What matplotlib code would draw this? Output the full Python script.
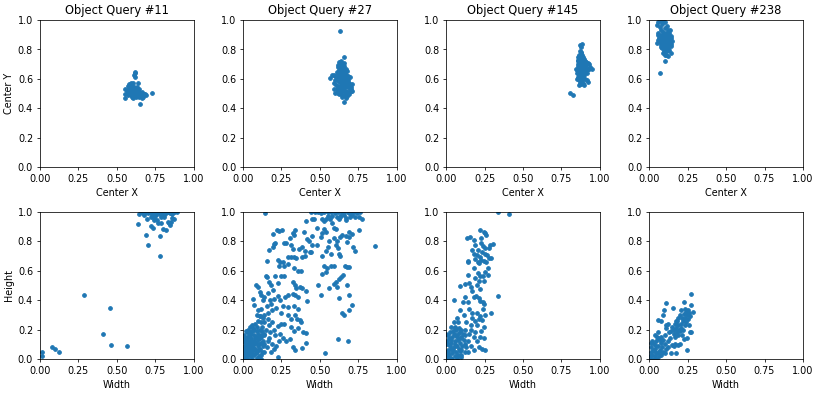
import matplotlib
matplotlib.use("Agg")
from matplotlib import pyplot as plt

queries = [11, 27, 145, 238]

# center (x, y) samples per query
q11_center = [(0.62,0.65),(0.62,0.64),(0.615,0.625),(0.62,0.61),(0.605,0.575),(0.59,0.575),(0.58,0.565),(0.635,0.57),
    (0.555,0.53),(0.555,0.50),(0.555,0.468),(0.575,0.52),(0.595,0.515),(0.615,0.53),(0.63,0.51),(0.64,0.50),(0.65,0.49),
    (0.66,0.495),(0.67,0.48),(0.685,0.50),(0.728,0.502),(0.652,0.428),(0.57,0.505),(0.59,0.49),(0.60,0.48),(0.61,0.50),
    (0.62,0.49),(0.63,0.485),(0.645,0.53),(0.665,0.51),(0.58,0.54),(0.61,0.545),(0.60,0.555),(0.625,0.52),(0.632,0.548),
    (0.665,0.47),(0.69,0.49),(0.57,0.49),(0.585,0.505),(0.60,0.505),(0.615,0.515),(0.64,0.515),(0.655,0.505),(0.675,0.495),
    (0.595,0.535),(0.575,0.555),(0.565,0.515),(0.605,0.47),(0.645,0.475),(0.625,0.475)]

q27_center = [(0.634,0.925),(0.656,0.747),(0.563,0.609),(0.66,0.446),(0.71,0.566),(0.624,0.717),(0.58,0.63),(0.59,0.625),
    (0.63,0.70),(0.64,0.69),(0.65,0.68),(0.66,0.69),(0.67,0.67),(0.62,0.68),(0.625,0.66),(0.635,0.665),(0.645,0.655),
    (0.655,0.665),(0.665,0.65),(0.675,0.655),(0.61,0.645),(0.62,0.64),(0.63,0.635),(0.64,0.63),(0.65,0.64),(0.66,0.635),
    (0.67,0.63),(0.68,0.62),(0.60,0.62),(0.61,0.615),(0.625,0.61),(0.635,0.605),(0.645,0.61),(0.655,0.60),(0.665,0.61),
    (0.675,0.60),(0.685,0.595),(0.60,0.59),(0.615,0.585),(0.63,0.58),(0.64,0.585),(0.65,0.575),(0.66,0.58),(0.67,0.575),
    (0.68,0.57),(0.695,0.565),(0.605,0.56),(0.62,0.555),(0.635,0.56),(0.645,0.55),(0.655,0.555),(0.665,0.545),(0.675,0.55),
    (0.69,0.54),(0.70,0.53),(0.61,0.535),(0.62,0.52),(0.63,0.53),(0.64,0.52),(0.65,0.525),(0.66,0.515),(0.67,0.52),
    (0.68,0.51),(0.70,0.515),(0.615,0.505),(0.625,0.495),(0.64,0.50),(0.655,0.49),(0.665,0.50),(0.675,0.485),(0.685,0.495),
    (0.645,0.475),(0.67,0.47),(0.69,0.50),(0.60,0.505),(0.59,0.57),(0.595,0.535),(0.705,0.545),(0.71,0.52),(0.685,0.58),
    (0.695,0.61),(0.615,0.695),(0.65,0.70),(0.66,0.71),(0.64,0.72),(0.635,0.545),(0.655,0.62),(0.645,0.595)]

q145_center = [(0.881,0.835),(0.87,0.83),(0.875,0.815),(0.806,0.507),(0.827,0.491),(0.946,0.667),(0.924,0.581),(0.915,0.59),
    (0.849,0.638),(0.87,0.79),(0.875,0.78),(0.88,0.775),(0.865,0.765),(0.885,0.76),(0.86,0.75),(0.87,0.745),(0.88,0.74),
    (0.89,0.75),(0.895,0.735),(0.855,0.73),(0.865,0.725),(0.875,0.72),(0.885,0.715),(0.90,0.72),(0.91,0.715),(0.92,0.71),
    (0.86,0.70),(0.87,0.705),(0.88,0.695),(0.89,0.70),(0.90,0.69),(0.91,0.695),(0.855,0.685),(0.865,0.68),(0.875,0.675),
    (0.885,0.68),(0.895,0.67),(0.905,0.675),(0.92,0.67),(0.93,0.665),(0.85,0.66),(0.86,0.655),(0.87,0.65),(0.88,0.655),
    (0.89,0.645),(0.90,0.65),(0.91,0.66),(0.855,0.64),(0.865,0.63),(0.875,0.625),(0.885,0.635),(0.895,0.625),(0.86,0.615),
    (0.87,0.61),(0.88,0.60),(0.89,0.61),(0.90,0.60),(0.865,0.595),(0.875,0.585),(0.885,0.59),(0.87,0.57),(0.88,0.565),
    (0.89,0.575),(0.865,0.56),(0.895,0.56),(0.85,0.60),(0.845,0.67),(0.935,0.68),(0.915,0.64),(0.86,0.72),(0.89,0.69),
    (0.875,0.645),(0.88,0.71),(0.87,0.68),(0.90,0.705),(0.865,0.74),(0.885,0.725),(0.93,0.70)]

q238_center = [(0.069,0.638),(0.104,0.722),(0.048,0.966),(0.048,0.842),(0.14,0.774),(0.06,0.985),(0.09,0.99),(0.085,0.975),
    (0.115,0.96),(0.07,0.95),(0.10,0.945),(0.08,0.93),(0.12,0.93),(0.09,0.92),(0.11,0.915),(0.13,0.91),(0.055,0.895),
    (0.075,0.90),(0.10,0.90),(0.12,0.895),(0.14,0.89),(0.065,0.88),(0.085,0.885),(0.105,0.88),(0.125,0.875),(0.145,0.875),
    (0.06,0.865),(0.08,0.87),(0.095,0.86),(0.115,0.865),(0.135,0.86),(0.07,0.85),(0.09,0.845),(0.11,0.85),(0.13,0.845),
    (0.145,0.84),(0.08,0.83),(0.10,0.825),(0.12,0.83),(0.14,0.825),(0.085,0.81),(0.105,0.805),(0.125,0.81),(0.095,0.79),
    (0.115,0.79),(0.13,0.795),(0.09,0.775),(0.11,0.765),(0.12,0.755),(0.10,0.76),(0.075,0.815),(0.15,0.86),(0.06,0.91),
    (0.135,0.935),(0.105,0.985),(0.075,0.99),(0.095,0.84),(0.115,0.835),(0.125,0.86),(0.085,0.855),(0.105,0.87),
    (0.10,0.89),(0.11,0.905),(0.095,0.905)]

# (width, height) samples per query
q11_size = [(0.015,0.049),(0.015,0.02),(0.08,0.079),(0.10,0.067),(0.124,0.047),(0.289,0.436),(0.459,0.348),(0.413,0.171),
    (0.463,0.092),(0.565,0.085),(0.641,0.917),(0.689,0.84),(0.702,0.773),(0.78,0.836),(0.78,0.699),(0.72,0.90),(0.735,0.89),
    (0.696,0.953),(0.743,0.94),(0.765,0.926),(0.80,0.88),(0.82,0.876),(0.833,0.93),(0.848,0.908),(0.87,0.948),(0.854,0.93),
    (0.745,0.955),(0.76,0.945),(0.79,0.92),(0.81,0.96),(0.84,0.925),(0.645,0.985),(0.67,0.99),(0.68,0.975),(0.70,0.99),
    (0.72,0.995),(0.73,0.98),(0.745,0.99),(0.76,0.985),(0.775,0.995),(0.79,0.98),(0.80,0.99),(0.815,0.985),(0.83,0.995),
    (0.845,0.99),(0.86,0.985),(0.875,0.995),(0.89,1.0),(0.66,1.0),(0.69,1.0),(0.71,1.0),(0.74,1.0),(0.77,1.0),(0.80,1.0),
    (0.82,1.0),(0.85,1.0),(0.87,1.0),(0.75,0.97),(0.785,0.965),(0.72,0.965),(0.86,0.955)]

q27_size = [(0.146,0.993),(0.409,0.937),(0.452,0.953),(0.46,0.95),(0.516,0.948),(0.527,0.937),(0.542,0.953),(0.563,0.948),
    (0.576,0.925),(0.591,0.892),(0.602,0.885),(0.624,0.948),(0.634,0.962),(0.656,0.978),(0.667,0.94),(0.688,0.99),
    (0.71,0.975),(0.731,0.965),(0.753,0.96),(0.774,0.953),(0.484,0.892),(0.527,0.881),(0.538,0.86),
    (0.44,1.0),(0.47,0.995),(0.49,1.0),(0.51,0.99),(0.53,1.0),(0.55,0.995),(0.57,1.0),(0.60,0.99),(0.62,1.0),(0.645,0.995),
    (0.66,1.0),(0.68,1.0),(0.70,0.995),(0.72,1.0),(0.74,0.99),(0.76,1.0),(0.58,0.97),(0.61,0.965),(0.64,0.975),(0.695,0.96),
    (0.55,0.97),(0.67,0.955),
    (0.198,0.847),(0.219,0.874),(0.236,0.87),(0.254,0.872),(0.327,0.858),(0.34,0.874),(0.335,0.84),(0.307,0.82),(0.419,0.813),
    (0.43,0.80),(0.172,0.742),(0.194,0.76),(0.204,0.78),(0.208,0.79),(0.265,0.784),(0.28,0.79),(0.314,0.77),(0.327,0.745),
    (0.366,0.746),(0.387,0.757),(0.404,0.73),(0.434,0.726),(0.452,0.77),(0.484,0.773),(0.505,0.825),(0.516,0.854),
    (0.602,0.773),(0.613,0.80),(0.634,0.827),(0.645,0.838),(0.667,0.836),(0.688,0.86),(0.71,0.847),(0.677,0.791),
    (0.688,0.825),(0.714,0.757),(0.731,0.735),(0.757,0.874),(0.856,0.769),(0.40,0.86),(0.45,0.835),(0.56,0.80),(0.59,0.82),
    (0.62,0.75),(0.55,0.76),
    (0.155,0.663),(0.226,0.672),(0.241,0.656),(0.258,0.66),(0.29,0.69),(0.312,0.694),(0.333,0.69),(0.348,0.683),(0.387,0.694),
    (0.404,0.697),(0.441,0.724),(0.516,0.697),(0.538,0.735),(0.57,0.712),(0.624,0.712),(0.634,0.70),
    (0.237,0.634),(0.269,0.634),(0.29,0.645),(0.329,0.616),(0.355,0.60),(0.376,0.60),(0.527,0.629),(0.548,0.616),(0.57,0.629),
    (0.591,0.629),(0.662,0.634),(0.677,0.622),(0.692,0.622),(0.65,0.571),(0.64,0.556),(0.624,0.54),(0.606,0.521),(0.591,0.51),
    (0.61,0.488),(0.516,0.578),(0.538,0.589),(0.49,0.499),(0.505,0.436),(0.559,0.481),(0.677,0.499),(0.688,0.436),(0.71,0.364),
    (0.688,0.33),(0.656,0.297),(0.624,0.413),(0.641,0.315),(0.619,0.139),(0.684,0.124),(0.533,0.04),
    (0.15,0.566),(0.155,0.555),(0.172,0.521),(0.183,0.499),(0.194,0.465),(0.211,0.566),(0.226,0.517),(0.247,0.566),
    (0.267,0.566),(0.086,0.499),(0.097,0.488),(0.108,0.454),(0.118,0.431),(0.065,0.409),(0.075,0.364),(0.161,0.449),
    (0.14,0.42),(0.13,0.398),(0.175,0.40),(0.18,0.375),(0.155,0.36),(0.12,0.34),(0.10,0.33),(0.09,0.30),(0.11,0.295),
    (0.14,0.30),(0.16,0.31),(0.19,0.33),(0.215,0.345),(0.205,0.41),(0.228,0.43),(0.24,0.40),(0.323,0.521),(0.34,0.505),
    (0.348,0.483),(0.37,0.488),(0.275,0.42),(0.29,0.431),(0.323,0.442),(0.34,0.431),(0.355,0.42),(0.387,0.483),(0.409,0.461),
    (0.415,0.393),(0.258,0.36),(0.29,0.355),(0.33,0.36),(0.36,0.34),(0.247,0.315),(0.29,0.3),(0.34,0.30),(0.352,0.27),
    (0.31,0.27),(0.37,0.265),(0.38,0.25),(0.27,0.24),
    (0.33,0.19),(0.315,0.22),(0.36,0.21),(0.39,0.18),(0.41,0.175),(0.305,0.135),(0.323,0.083),(0.34,0.061),(0.387,0.072),
    (0.41,0.11),(0.24,0.17),(0.226,0.225),(0.245,0.24),(0.26,0.14),(0.28,0.12),(0.236,0.12),(0.215,0.09),(0.20,0.07),
    (0.19,0.10),(0.23,0.016),(0.18,0.05),(0.17,0.14),(0.2,0.2),(0.21,0.165),(0.19,0.25),(0.17,0.23),(0.16,0.27),(0.14,0.25),
    (0.125,0.22),(0.15,0.2),(0.175,0.18),(0.14,0.16),(0.16,0.12),(0.155,0.08),(0.135,0.05),(0.14,0.1),
    (0.005,0.01),(0.01,0.03),(0.015,0.05),(0.005,0.07),(0.012,0.09),(0.02,0.02),(0.025,0.06),(0.03,0.10),(0.02,0.13),
    (0.03,0.15),(0.035,0.04),(0.04,0.08),(0.04,0.12),(0.045,0.18),(0.05,0.02),(0.05,0.06),(0.055,0.10),(0.055,0.14),
    (0.06,0.19),(0.06,0.04),(0.065,0.08),(0.07,0.12),(0.07,0.16),(0.075,0.03),(0.08,0.07),(0.08,0.11),(0.085,0.15),
    (0.09,0.19),(0.09,0.05),(0.095,0.09),(0.1,0.13),(0.1,0.17),(0.105,0.02),(0.11,0.07),(0.115,0.11),(0.12,0.15),
    (0.125,0.19),(0.125,0.05),(0.13,0.09),(0.01,0.16),(0.015,0.11),(0.025,0.18),(0.035,0.20),(0.045,0.22),(0.05,0.17),
    (0.065,0.21),(0.075,0.2),(0.085,0.04),(0.095,0.14),(0.105,0.1),(0.115,0.16),(0.035,0.07),(0.045,0.03),(0.06,0.12),
    (0.07,0.06),(0.025,0.085),(0.008,0.045),(0.018,0.14),(0.028,0.03),(0.038,0.16),(0.048,0.11),(0.058,0.065),(0.068,0.095),
    (0.078,0.14),(0.088,0.11),(0.098,0.06),(0.108,0.14),(0.118,0.03),(0.128,0.12),(0.135,0.17),(0.11,0.2),(0.09,0.22),
    (0.1,0.26),(0.08,0.24),(0.06,0.23),(0.12,0.25),(0.11,0.29),(0.13,0.28),(0.02,0.19),(0.04,0.045),(0.003,0.12),
    (0.015,0.0),(0.03,0.0),(0.06,0.0),(0.09,0.01),(0.12,0.0),(0.0,0.03),(0.0,0.08),(0.0,0.15)]

q145_size = [(0.335,0.998),(0.408,0.987),(0.218,0.874),(0.136,0.82),(0.158,0.827),(0.183,0.81),(0.227,0.82),(0.255,0.854),
    (0.262,0.84),(0.248,0.86),(0.19,0.773),(0.229,0.787),(0.24,0.765),(0.287,0.773),(0.302,0.78),(0.168,0.742),(0.179,0.714),
    (0.2,0.703),(0.222,0.692),(0.233,0.726),(0.254,0.714),(0.265,0.703),(0.276,0.685),(0.244,0.663),(0.27,0.62),(0.272,0.571),
    (0.238,0.566),(0.294,0.683),(0.143,0.667),(0.14,0.655),(0.19,0.68),(0.205,0.66),(0.215,0.65),(0.14,0.571),(0.147,0.517),
    (0.089,0.494),(0.126,0.51),(0.186,0.548),(0.212,0.526),(0.248,0.528),(0.218,0.476),(0.196,0.43),(0.212,0.412),
    (0.222,0.395),(0.24,0.386),(0.248,0.372),(0.05,0.398),(0.11,0.387),(0.126,0.42),(0.141,0.386),(0.335,0.427),
    (0.294,0.315),(0.089,0.33),(0.115,0.3),(0.148,0.34),(0.17,0.315),(0.24,0.34),(0.252,0.30),(0.236,0.265),(0.245,0.22),
    (0.19,0.26),(0.17,0.28),(0.16,0.23),(0.2,0.23),(0.215,0.27),(0.23,0.19),(0.255,0.058),(0.233,0.07),(0.212,0.08),
    (0.2,0.12),(0.18,0.15),(0.22,0.15),(0.245,0.14),(0.19,0.18),(0.165,0.2),(0.15,0.17),(0.13,0.25),(0.12,0.2),(0.14,0.12),
    (0.16,0.09),(0.18,0.06),(0.14,0.05),(0.12,0.1),(0.1,0.14),(0.08,0.25),(0.06,0.22),(0.07,0.28),(0.05,0.25),(0.09,0.18),
    (0.1,0.06),(0.2,0.31),(0.22,0.29),(0.18,0.42),(0.17,0.46),(0.16,0.49),(0.2,0.5),(0.18,0.62),(0.21,0.74),(0.23,0.67),
    (0.255,0.75),(0.28,0.755),(0.21,0.585),(0.22,0.56),(0.26,0.655),(0.25,0.59),
    (0.005,0.02),(0.01,0.06),(0.015,0.1),(0.02,0.14),(0.025,0.18),(0.005,0.12),(0.01,0.16),(0.02,0.03),(0.03,0.07),
    (0.035,0.11),(0.04,0.15),(0.045,0.19),(0.03,0.01),(0.04,0.04),(0.05,0.08),(0.055,0.12),(0.06,0.16),(0.065,0.2),
    (0.055,0.02),(0.065,0.05),(0.07,0.09),(0.075,0.13),(0.08,0.17),(0.08,0.02),(0.085,0.07),(0.09,0.11),(0.095,0.15),
    (0.1,0.2),(0.1,0.03),(0.105,0.09),(0.11,0.17),(0.115,0.13),(0.12,0.05),(0.045,0.06),(0.025,0.085),(0.035,0.13),
    (0.06,0.1),(0.015,0.045),(0.075,0.03),(0.09,0.055),(0.05,0.17),(0.07,0.15),(0.0,0.05),(0.0,0.1),(0.0,0.17),(0.01,0.0),
    (0.04,0.0),(0.07,0.0),(0.095,0.015),(0.035,0.22),(0.055,0.21),(0.085,0.21),(0.125,0.16),(0.13,0.08)]

q238_size = [(0.27,0.443),(0.112,0.382),(0.227,0.387),(0.156,0.348),(0.097,0.33),(0.091,0.301),(0.27,0.366),(0.285,0.319),
    (0.06,0.263),(0.08,0.26),(0.108,0.229),(0.125,0.235),(0.173,0.256),(0.19,0.275),(0.2,0.3),(0.21,0.33),(0.225,0.305),
    (0.215,0.28),(0.264,0.18),(0.275,0.18),(0.227,0.139),(0.248,0.145),(0.248,0.061),(0.15,0.095),(0.16,0.085),
    (0.173,0.038),(0.14,0.04),(0.175,0.21),(0.185,0.23),(0.16,0.2),(0.15,0.22),(0.18,0.18),(0.195,0.2),(0.205,0.24),
    (0.22,0.26),(0.235,0.28),(0.245,0.3),(0.255,0.27),(0.24,0.32),(0.23,0.34),(0.25,0.33),(0.26,0.31),(0.2,0.19),(0.19,0.16),
    (0.21,0.21),(0.17,0.15),(0.16,0.17),(0.145,0.19),(0.135,0.14),(0.12,0.12),(0.13,0.18),(0.23,0.23),(0.24,0.25),
    (0.22,0.2),(0.18,0.26),(0.165,0.24),(0.26,0.23),(0.265,0.29),(0.2,0.1),(0.185,0.095),(0.17,0.1),(0.215,0.16),
    (0.11,0.21),(0.1,0.16),(0.09,0.13),
    (0.005,0.02),(0.01,0.05),(0.015,0.08),(0.02,0.03),(0.025,0.06),(0.03,0.1),(0.035,0.02),(0.04,0.07),(0.045,0.12),
    (0.05,0.04),(0.055,0.09),(0.06,0.14),(0.065,0.02),(0.07,0.06),(0.075,0.11),(0.08,0.03),(0.085,0.08),(0.09,0.05),
    (0.1,0.1),(0.11,0.07),(0.02,0.12),(0.03,0.0),(0.05,0.15),(0.06,0.18),(0.04,0.16),(0.07,0.13),(0.1,0.04),(0.12,0.08),
    (0.015,0.0),(0.05,0.0),(0.08,0.15),(0.01,0.11),(0.035,0.045),(0.045,0.085),(0.065,0.05)]

centers = [q11_center, q27_center, q145_center, q238_center]
sizes = [q11_size, q27_size, q145_size, q238_size]

fig, axes = plt.subplots(2, 4, figsize=(12, 5.683), dpi=830 / 12)
fig.subplots_adjust(left=0.048, right=0.9675, top=0.949, bottom=0.0865, wspace=0.32, hspace=0.30)

for i, q in enumerate(queries):
    ax = axes[0, i]
    ax.scatter([p[0] for p in centers[i]], [p[1] for p in centers[i]], s=15)
    ax.set_xlim(0, 1)
    ax.set_ylim(0, 1)
    ax.set_xticks([0, 0.25, 0.5, 0.75, 1.0])
    ax.set_title(f"Object Query #{q}")
    ax.set_xlabel("Center X")

    ax = axes[1, i]
    ax.scatter([p[0] for p in sizes[i]], [p[1] for p in sizes[i]], s=15)
    ax.set_xlim(0, 1)
    ax.set_ylim(0, 1)
    ax.set_xticks([0, 0.25, 0.5, 0.75, 1.0])
    ax.set_xlabel("Width")

axes[0, 0].set_ylabel("Center Y")
axes[1, 0].set_ylabel("Height")

plt.savefig("out.png")
